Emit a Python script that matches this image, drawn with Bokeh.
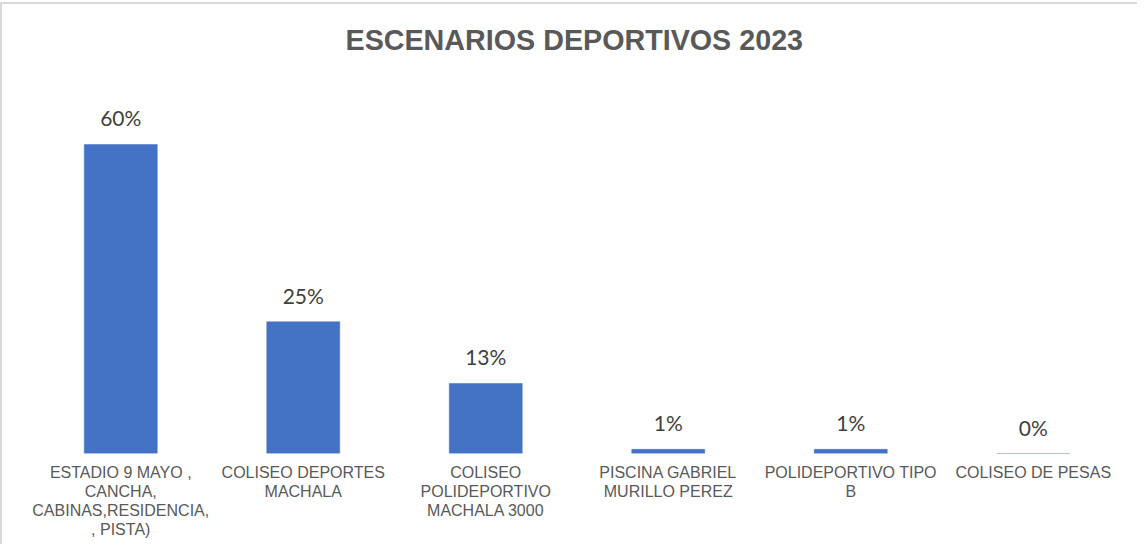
from bokeh.plotting import figure
from bokeh.models import ColumnDataSource, LabelSet, Range1d
from bokeh.core.properties import value
from bokeh.embed import file_html
from bokeh.resources import INLINE

categories = [
    "ESTADIO 9 MAYO ,\nCANCHA,\nCABINAS,RESIDENCIA,\n, PISTA)",
    "COLISEO DEPORTES\nMACHALA",
    "COLISEO\nPOLIDEPORTIVO\nMACHALA 3000",
    "PISCINA GABRIEL\nMURILLO PEREZ",
    "POLIDEPORTIVO TIPO\nB",
    "COLISEO DE PESAS",
]
shares = [0.596, 0.254, 0.135, 0.008, 0.008, 0.0]
labels = ["60%", "25%", "13%", "1%", "1%", "0%"]

source = ColumnDataSource(dict(cat=categories, val=shares, lab=labels))

p = figure(
    x_range=categories,
    y_range=Range1d(0, 0.7367),
    width=1137,
    height=542,
    output_backend="svg",
    toolbar_location=None,
    title="ESCENARIOS DEPORTIVOS 2023",
    min_border_left=27,
    min_border_right=15,
    min_border_top=67,
    min_border_bottom=93,
)
p.styles = {"border-top": "2px solid #d9d9d9", "border-left": "2px solid #d9d9d9",
            "margin-top": "2px"}

p.title.text_font = "Liberation Sans"
p.title.text_font_size = "28.7px"
p.title.text_font_style = "bold"
p.title.text_color = "#595959"
p.title.align = "left"
p.title.offset = 316
p.title.standoff = 32

p.vbar(x="cat", top="val", width=0.4, source=source,
       fill_color="#4472C4", line_color="#4472C4", line_width=0.5)

lbl = LabelSet(x="cat", y="val", text="lab", source=source,
               x_offset=0, y_offset=18, text_align="center",
               text_baseline="alphabetic",
               text_font=value("Lato"), text_font_size="21px",
               text_color="#404040")
p.add_layout(lbl)

p.yaxis.visible = False
p.xgrid.grid_line_color = None
p.ygrid.grid_line_color = None
p.outline_line_color = None
p.xaxis.axis_line_color = None
p.xaxis.major_tick_line_color = None
p.xaxis.minor_tick_line_color = None
p.xaxis.major_tick_out = 0
p.xaxis.major_tick_in = 0
p.xaxis.major_label_standoff = 10
p.xaxis.major_label_text_font = "Liberation Sans"
p.xaxis.major_label_text_font_size = "16px"
p.xaxis.major_label_text_line_height = 1.12
p.xaxis.major_label_text_color = "#595959"
p.x_range.range_padding = 0

open("out.html", "w").write(file_html(p, INLINE))
